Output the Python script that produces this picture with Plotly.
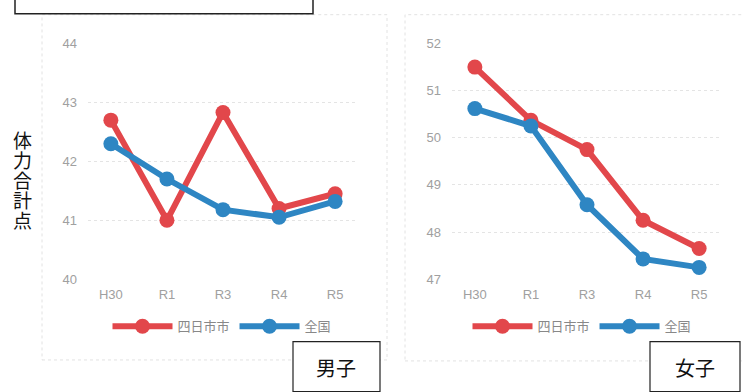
import plotly.graph_objects as go

W, H = 742, 392
categories = ["H30", "R1", "R3", "R4", "R5"]
boys_city = [42.7, 41.0, 42.83, 41.2, 41.45]
boys_nation = [42.3, 41.7, 41.18, 41.05, 41.32]
girls_city = [51.5, 50.37, 49.75, 48.25, 47.65]
girls_nation = [50.62, 50.25, 48.58, 47.43, 47.25]
boys_ticks = [40, 41, 42, 43, 44]
girls_ticks = [47, 48, 49, 50, 51, 52]
series_names = ["四日市市", "全国"]
RED = "#e2474b"
BLUE = "#2e86c3"

def px(x):
    return x / W

def py(y):
    return 1 - y / H

fig = go.Figure()
FONT = "Noto Sans CJK JP"

def add(xa, ya, yvals, name, color, legend):
    fig.add_trace(go.Scatter(
        x=categories, y=yvals, name=name, mode="lines+markers",
        line=dict(color=color, width=6), marker=dict(color=color, size=15),
        xaxis=xa, yaxis=ya, legend=legend, cliponaxis=False))

add("x", "y", boys_city, series_names[0], RED, "legend")
add("x", "y", boys_nation, series_names[1], BLUE, "legend")
add("x2", "y2", girls_city, series_names[0], RED, "legend2")
add("x2", "y2", girls_nation, series_names[1], BLUE, "legend2")

ax_common = dict(showline=False, showgrid=False, zeroline=False, ticks="",
                 tickfont=dict(size=13, color="#a0a0a0", family="Liberation Sans"),
                 fixedrange=True)
ay_common = dict(showline=False, showgrid=True, gridcolor="#e4e4e4", gridwidth=1,
                 griddash="dot", zeroline=False, ticks="",
                 tickfont=dict(size=13, color="#a0a0a0", family="Liberation Sans"),
                 ticklabelstandoff=10)

leg_common = dict(orientation="h", xanchor="center", yanchor="middle",
                  font=dict(size=13, color="#888888"), itemwidth=60,
                  bgcolor="rgba(0,0,0,0)")

fig.update_layout(
    width=W, height=H, margin=dict(l=0, r=0, t=0, b=0),
    paper_bgcolor="white", plot_bgcolor="white",
    font=dict(family=FONT),
    xaxis=dict(domain=[px(88), px(358)], anchor="y", ticklabelstandoff=6, **ax_common),
    yaxis=dict(domain=[py(283), py(38)], anchor="x", range=[40, 44],
               tickvals=boys_ticks, **ay_common),
    xaxis2=dict(domain=[px(452), px(722)], anchor="y2", ticklabelstandoff=6, **ax_common),
    yaxis2=dict(domain=[py(283), py(38)], anchor="x2", range=[47, 52],
                tickvals=girls_ticks, **ay_common),
    legend=dict(x=px(222), y=py(332), **leg_common),
    legend2=dict(x=px(582), y=py(332), **leg_common),
    showlegend=True,
)

shapes = [
    dict(type="rect", xref="paper", yref="paper", x0=px(42), x1=px(387), y0=py(367), y1=py(8),
         line=dict(color="#e2e2e2", width=1, dash="dot"), layer="below"),
    dict(type="rect", xref="paper", yref="paper", x0=px(405), x1=px(760), y0=py(368), y1=py(8),
         line=dict(color="#e2e2e2", width=1, dash="dot"), layer="below"),
    dict(type="rect", xref="paper", yref="paper", x0=px(15), x1=px(313), y0=py(7), y1=py(-20),
         line=dict(color="#222222", width=1.5), fillcolor="white", layer="above"),
    dict(type="rect", xref="paper", yref="paper", x0=px(293), x1=px(380), y0=py(400), y1=py(348),
         line=dict(color="#222222", width=1.2), fillcolor="white", layer="above"),
    dict(type="rect", xref="paper", yref="paper", x0=px(650), x1=px(740), y0=py(400), y1=py(348),
         line=dict(color="#222222", width=1.2), fillcolor="white", layer="above"),
]
fig.update_layout(shapes=shapes)

ytitle = "体力合計点"
ann = [
    dict(text="男子", x=px(336), y=py(375), xref="paper", yref="paper", showarrow=False,
         font=dict(size=20, color="#111111", family=FONT), xanchor="center", yanchor="middle"),
    dict(text="女子", x=px(695), y=py(375), xref="paper", yref="paper", showarrow=False,
         font=dict(size=20, color="#111111", family=FONT), xanchor="center", yanchor="middle"),
]
for i, ch in enumerate(ytitle):
    ann.append(dict(text=ch, x=px(22), y=py(138 + i * 20.8), xref="paper", yref="paper",
                    showarrow=False, font=dict(size=19, color="#111111", family=FONT),
                    xanchor="center", yanchor="middle"))
fig.update_layout(annotations=ann)

fig.write_html("out.html")
